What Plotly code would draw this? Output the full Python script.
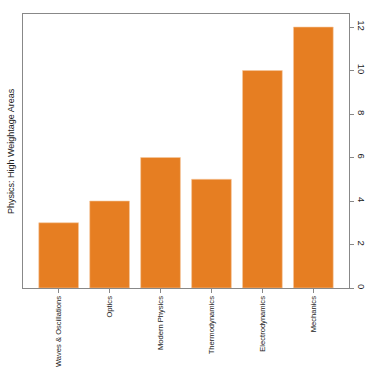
import plotly.graph_objects as go

categories = ["Waves & Oscillations", "Optics", "Modern Physics", "Thermodynamics", "Electrodynamics", "Mechanics"]
values = [3, 4, 6, 5, 10, 12]
y_ticks = [0, 2, 4, 6, 8, 10, 12]

FONT = "Liberation Sans Narrow, Arial Narrow, Liberation Sans, Arial, sans-serif"

fig = go.Figure(go.Bar(
    x=categories, y=values,
    marker=dict(color="#E67E22", line=dict(color="#F5C79E", width=0.6)),
    width=0.78,
))

fig.update_layout(
    width=374, height=374,
    margin=dict(l=23, r=25, t=14, b=86, autoexpand=False),
    plot_bgcolor="white", paper_bgcolor="white",
    showlegend=False,
    font=dict(family=FONT, size=9, color="#222"),
    xaxis=dict(
        range=[-0.7, 5.7], tickangle=-90, automargin=False,
        showline=True, linecolor="#888", linewidth=1, mirror=True,
        ticks="outside", ticklen=4, tickcolor="#888",
        tickfont=dict(size=7.6, family=FONT, color="#222"),
        showgrid=False,
    ),
    yaxis=dict(
        side="right", range=[0, 12.6], automargin=False,
        tickvals=y_ticks, tickangle=90,
        showline=True, linecolor="#888", linewidth=1, mirror=True,
        ticks="outside", ticklen=4, tickcolor="#888",
        tickfont=dict(size=9.5, family=FONT, color="#222"),
        showgrid=False, zeroline=False,
    ),
    annotations=[dict(
        text="Physics: High Weightage Areas", textangle=-90,
        xref="paper", yref="paper", x=-0.015, y=0.5,
        xanchor="right", yanchor="middle", showarrow=False,
        font=dict(size=9, family=FONT, color="#222"),
    )],
)

fig.write_html(
    "out.html",
    config={"displayModeBar": False},
    post_script="document.body.style.margin='0';document.body.style.padding='0';",
)
